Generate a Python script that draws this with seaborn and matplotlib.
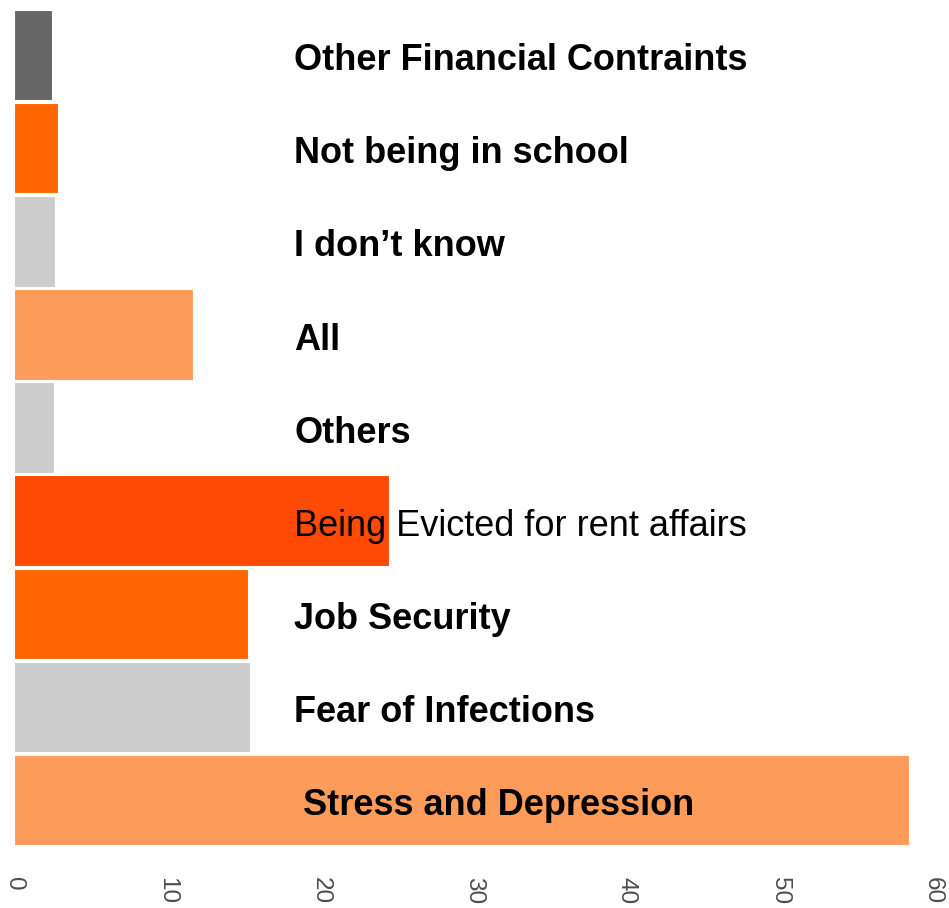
import matplotlib
matplotlib.use("Agg")
import matplotlib.pyplot as plt
import seaborn as sns
import pandas as pd

categories = [
    "Other Financial Contraints",
    "Not being in school",
    "I don\u2019t know",
    "All",
    "Others",
    "Being Evicted for rent affairs",
    "Job Security",
    "Fear of Infections",
    "Stress and Depression",
]
values = [2.5, 2.9, 2.7, 11.7, 2.6, 24.5, 15.3, 15.4, 58.4]
colors = ["#666666", "#FF6600", "#CCCCCC", "#FC9B5A", "#CCCCCC",
          "#FF4A05", "#FF6600", "#CCCCCC", "#FC9B5A"]
bold = [True, True, True, True, True, False, True, True, True]
x_ticks = [0, 10, 20, 30, 40, 50, 60]

sns.set_theme(style="white")
plt.rcParams["font.family"] = ["Liberation Sans", "DejaVu Sans"]

df = pd.DataFrame({"category": categories, "value": values})

fig = plt.figure(figsize=(9.49, 9.08), dpi=100)
ax = fig.add_axes([14 / 949, 0.0678, 60.8 * 15.32 / 949, 0.9227])

sns.barplot(data=df, y="category", x="value", hue="category",
            order=categories, hue_order=categories,
            palette=dict(zip(categories, colors)), legend=False,
            saturation=1, width=0.97, edgecolor="white", linewidth=0.8,
            ax=ax)

for i, (cat, b) in enumerate(zip(categories, bold)):
    xpos = 18.85 if cat == "Stress and Depression" else 18.3
    ax.text(xpos, i + 0.06, cat, ha="left", va="center", fontsize=26,
            fontweight="bold" if b else "normal", color="black")

ax.set_xlim(0, 60.8)
ax.set_ylim(len(categories) - 0.5, -0.5)
ax.set_xticks(x_ticks)
ax.set_xticklabels([str(t) for t in x_ticks], rotation=-90,
                   fontsize=17.5, color="#4D4D4D")
ax.tick_params(axis="x", length=0, pad=22)
ax.set_yticks([])
ax.set_xlabel("")
ax.set_ylabel("")
for s in ax.spines.values():
    s.set_visible(False)

fig.savefig("out.png", dpi=100)
